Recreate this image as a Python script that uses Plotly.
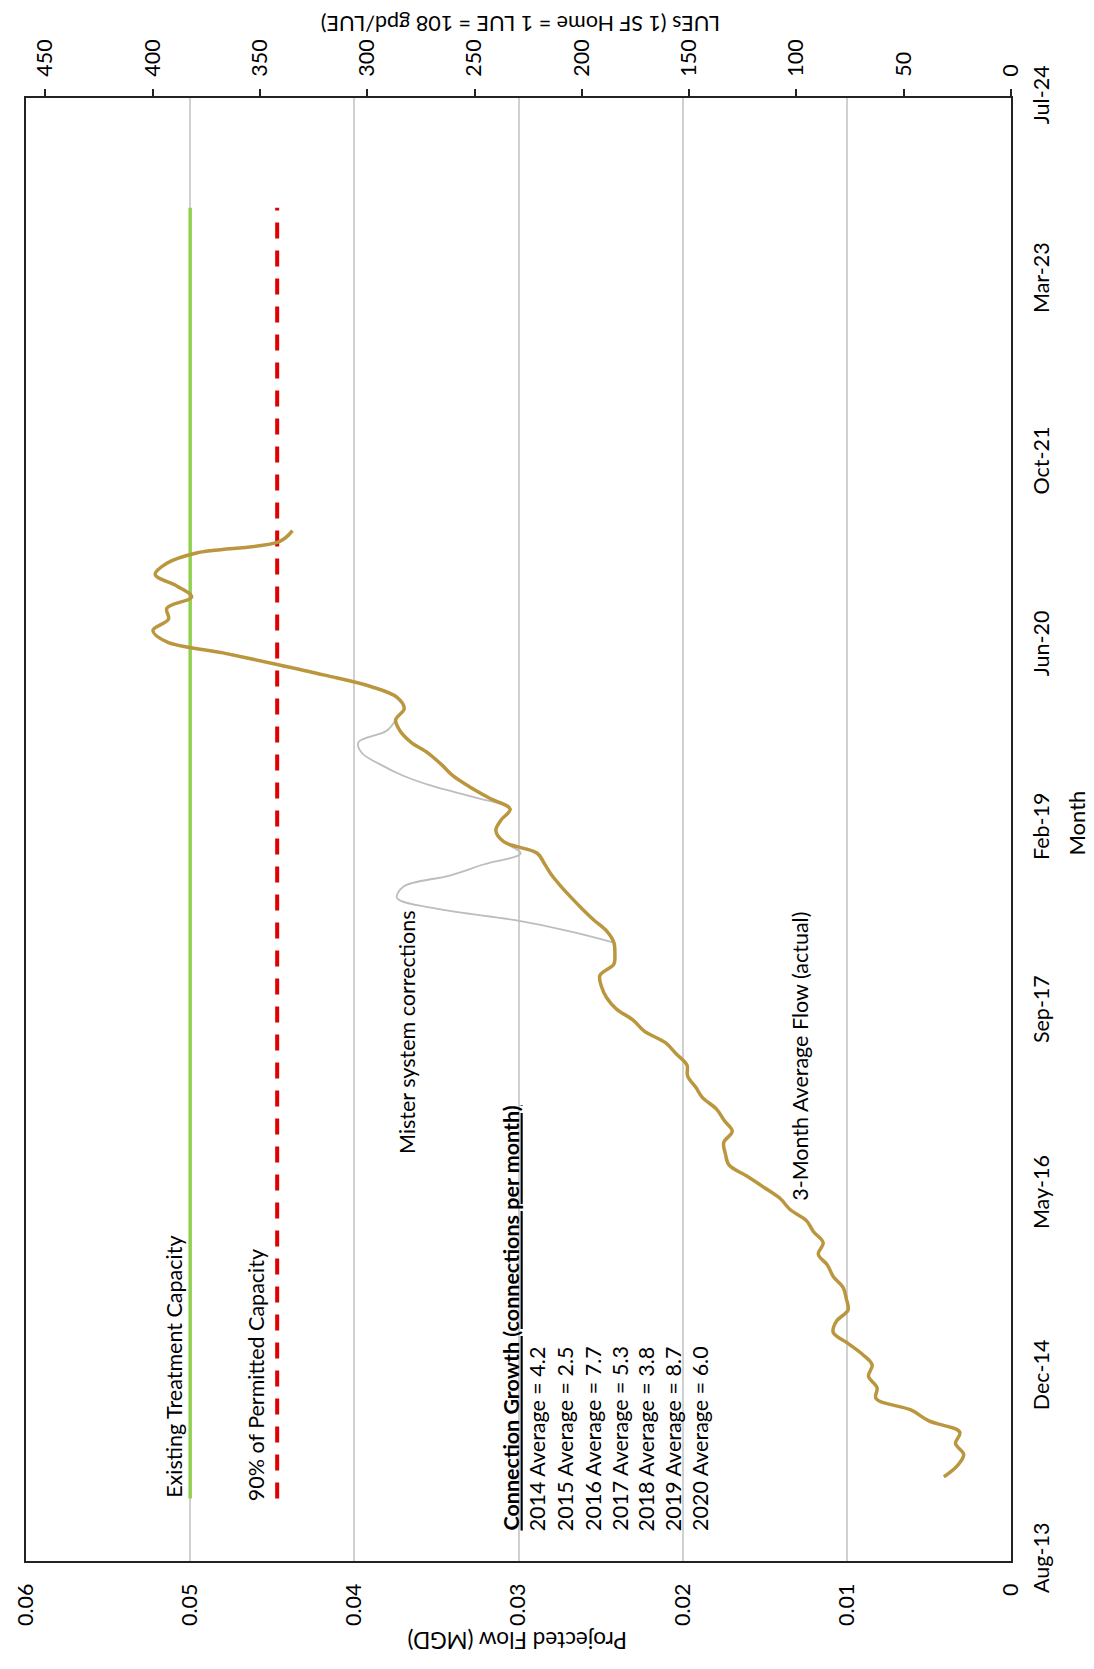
import plotly.graph_objects as go
import pandas as pd

# ---------------- data ----------------
months = [
    "2014-04-01", "2014-05-01", "2014-06-01", "2014-07-01", "2014-08-01", "2014-09-01",
    "2014-10-01", "2014-11-01", "2014-12-01", "2015-01-01", "2015-02-01", "2015-03-01",
    "2015-04-01", "2015-05-01", "2015-06-01", "2015-07-01", "2015-08-01", "2015-09-01",
    "2015-10-01", "2015-11-01", "2015-12-01", "2016-01-01", "2016-02-01", "2016-03-01",
    "2016-04-01", "2016-05-01", "2016-06-01", "2016-07-01", "2016-08-01", "2016-09-01",
    "2016-10-01", "2016-11-01", "2016-12-01", "2017-01-01", "2017-02-01", "2017-03-01",
    "2017-04-01", "2017-05-01", "2017-06-01", "2017-07-01", "2017-08-01", "2017-09-01",
    "2017-10-01", "2017-11-01", "2017-12-01", "2018-01-01", "2018-02-01", "2018-03-01",
    "2018-04-01", "2018-05-01", "2018-06-01", "2018-07-01", "2018-08-01", "2018-09-01",
    "2018-10-01", "2018-11-01", "2018-12-01", "2019-01-01", "2019-02-01", "2019-03-01",
    "2019-04-01", "2019-05-01", "2019-06-01", "2019-07-01", "2019-08-01", "2019-09-01",
    "2019-10-01", "2019-11-01", "2019-12-01", "2020-01-01", "2020-02-01", "2020-03-01",
    "2020-04-01", "2020-05-01", "2020-06-01", "2020-07-01", "2020-08-01", "2020-09-01",
    "2020-10-01", "2020-11-01", "2020-12-01", "2021-01-01", "2021-02-01", "2021-03-01",
    "2021-04-01", "2021-05-01",
]

flow_actual = [
    0.00409, 0.00328, 0.00288, 0.00338, 0.00312, 0.00500,
    0.00610, 0.00822, 0.00816, 0.00868, 0.00846, 0.00902,
    0.00993, 0.01083, 0.01063, 0.00993, 0.01003, 0.01023,
    0.01083, 0.01118, 0.01174, 0.01144, 0.01204, 0.01245,
    0.01346, 0.01406, 0.01506, 0.01607, 0.01718, 0.01740,
    0.01750, 0.01698, 0.01748, 0.01795, 0.01879, 0.01920,
    0.01970, 0.01974, 0.02040, 0.02105, 0.02232, 0.02302,
    0.02403, 0.02463, 0.02494, 0.02504, 0.02419, 0.02413,
    0.02419, 0.02460, 0.02540, 0.02610, 0.02677, 0.02740,
    0.02796, 0.02840, 0.02886, 0.03088, 0.03138, 0.03108,
    0.03051, 0.03178, 0.03299, 0.03400, 0.03470, 0.03551,
    0.03656, 0.03722, 0.03748, 0.03696, 0.03742, 0.03900,
    0.04180, 0.04477, 0.04800, 0.05142, 0.05227, 0.05132,
    0.05142, 0.04991, 0.05082, 0.05213, 0.05142, 0.04961,
    0.04457, 0.04377,
]

# flow before the mister-system corrections (grey line)
uncorrected_months = [
    "2018-04-01", "2018-05-01", "2018-06-01", "2018-07-01", "2018-08-01", "2018-09-01",
    "2018-10-01", "2018-11-01", "2018-12-01", "2019-01-01", "2019-02-01", "2019-03-01",
    "2019-04-01", "2019-05-01", "2019-06-01", "2019-07-01", "2019-08-01", "2019-09-01",
    "2019-10-01", "2019-11-01", "2019-12-01",
]
flow_uncorrected = [
    0.02419, 0.02680, 0.03020, 0.03480, 0.03740, 0.03700,
    0.03420, 0.03208, 0.02987, 0.03088, 0.03138, 0.03108,
    0.03051, 0.03249, 0.03511, 0.03702, 0.03843, 0.03954,
    0.03975, 0.03803, 0.03748,
]

capacity_dates = ["2014-02-01", "2023-10-01"]
existing_capacity = [0.05, 0.05]
permitted_90pct = [0.0447, 0.0447]

flow_ticks = [0, 0.01, 0.02, 0.03, 0.04, 0.05, 0.06]
flow_tick_text = ["0", "0.01", "0.02", "0.03", "0.04", "0.05", "0.06"]
lue_ticks = [0, 50, 100, 150, 200, 250, 300, 350, 400, 450]
lue_tick_text = ["0", "50", "100", "150", "200", "250", "300", "350", "400", "450"]
month_tick_text = ["Aug-13", "Dec-14", "May-16", "Sep-17", "Feb-19",
                   "Jun-20", "Oct-21", "Mar-23", "Jul-24"]

connection_header = "Connection Growth (connections per month)"
connection_lines = [
    "2014 Average = 4.2",
    "2015 Average = 2.5",
    "2016 Average = 7.7",
    "2017 Average = 5.3",
    "2018 Average = 3.8",
    "2019 Average = 8.7",
    "2020 Average = 6.0",
]

# ---------------- layout helpers ----------------
W, H = 1094, 1669
PL, PR, PT, PB = 18, 1011, 98, 1561   # plot area in pixels


def px_x(p):
    return (p - PL) / (PR - PL)


def px_y(p):
    return (PB - p) / (PB - PT)


date_start = pd.Timestamp("2013-08-14")
date_end = pd.Timestamp("2024-07-27")
month_tick_vals = [date_start + pd.Timedelta(days=500 * i) for i in range(len(month_tick_text))]

FONT = "Lato, 'Open Sans', sans-serif"
TXT = "#000000"
FS = 21.5

fig = go.Figure()

fig.add_trace(go.Scatter(
    x=flow_uncorrected, y=uncorrected_months, mode="lines",
    line=dict(color="#BDBDBD", width=1.8, shape="spline"),
    hoverinfo="skip", showlegend=False))

fig.add_trace(go.Scatter(
    x=existing_capacity, y=capacity_dates, mode="lines",
    line=dict(color="#92D050", width=3.5),
    hoverinfo="skip", showlegend=False))

fig.add_trace(go.Scatter(
    x=permitted_90pct, y=capacity_dates, mode="lines",
    line=dict(color="#E00000", width=4, dash="16px,12px"),
    hoverinfo="skip", showlegend=False))

fig.add_trace(go.Scatter(
    x=flow_actual, y=months, mode="lines",
    line=dict(color="#BA963E", width=3.5, shape="spline"),
    hoverinfo="skip", showlegend=False))

# secondary (LUE) axis holder
fig.add_trace(go.Scatter(x=[], y=[], xaxis="x2", yaxis="y",
                         mode="lines", showlegend=False, hoverinfo="skip"))

annotations = []


def rot_text(text, x, y, xanchor="center", yanchor="bottom", angle=-90, size=FS, **kw):
    annotations.append(dict(
        text=text, x=px_x(x), y=px_y(y), xref="paper", yref="paper",
        xanchor=xanchor, yanchor=yanchor, textangle=angle, showarrow=False,
        font=dict(family=FONT, size=size, color=TXT), **kw))


rot_text("Existing Treatment Capacity", 167, 1500)
rot_text("90% of Permitted Capacity", 250, 1503)
rot_text("<b><u>" + connection_header + "</u></b>", 506, 1533)
line_x = [533, 561, 589, 616, 643, 670, 697]
for lx, t in zip(line_x, connection_lines):
    rot_text(t, lx, 1533)
rot_text("Mister system corrections", 402, 1032, yanchor="middle")
rot_text("3-Month Average Flow (actual)", 798, 1056, yanchor="middle")

# axis titles
rot_text("Projected Flow (MGD)", 514, 1641, yanchor="middle", angle=180, size=22.5)
rot_text("LUEs (1 SF Home = 1 LUE = 108 gpd/LUE)", 516, 24, yanchor="middle", angle=180, size=21.5)
rot_text("Month", 1077, 823, yanchor="middle", angle=-90, size=22)

AX = "#222222"
fig.update_layout(
    width=W, height=H,
    margin=dict(l=PL, r=W - PR, t=PT, b=H - PB, pad=0),
    paper_bgcolor="white", plot_bgcolor="white",
    showlegend=False,
    font=dict(family=FONT, size=FS, color=TXT),
    xaxis=dict(
        range=[0.06, 0], tickvals=flow_ticks, ticktext=flow_tick_text,
        tickangle=-90, showgrid=True, gridcolor="#D0D0D0", gridwidth=1.5,
        zeroline=False, showline=True, linecolor=AX, linewidth=2,
        ticks="", ticklabelstandoff=12, side="bottom",
        tickfont=dict(family=FONT, size=FS, color=TXT)),
    xaxis2=dict(
        overlaying="x", side="top", anchor="y", range=[459, 0],
        tickvals=lue_ticks, ticktext=lue_tick_text, tickangle=-90,
        ticks="outside", ticklen=7, tickwidth=2, tickcolor=AX,
        showline=True, linecolor=AX, linewidth=2, showgrid=False, zeroline=False,
        ticklabelstandoff=8,
        tickfont=dict(family=FONT, size=FS, color=TXT)),
    yaxis=dict(
        type="date", range=[date_start, date_end], side="right",
        tickvals=month_tick_vals, ticktext=month_tick_text, tickangle=-90,
        showline=True, mirror=True, linecolor=AX, linewidth=2,
        showgrid=False, zeroline=False, ticks="", ticklabelstandoff=10,
        tickfont=dict(family=FONT, size=FS, color=TXT)),
    annotations=annotations,
)

fig.write_html(
    "out.html",
    config={"displayModeBar": False},
    post_script="document.body.style.margin='0';document.body.style.overflow='hidden';",
)
